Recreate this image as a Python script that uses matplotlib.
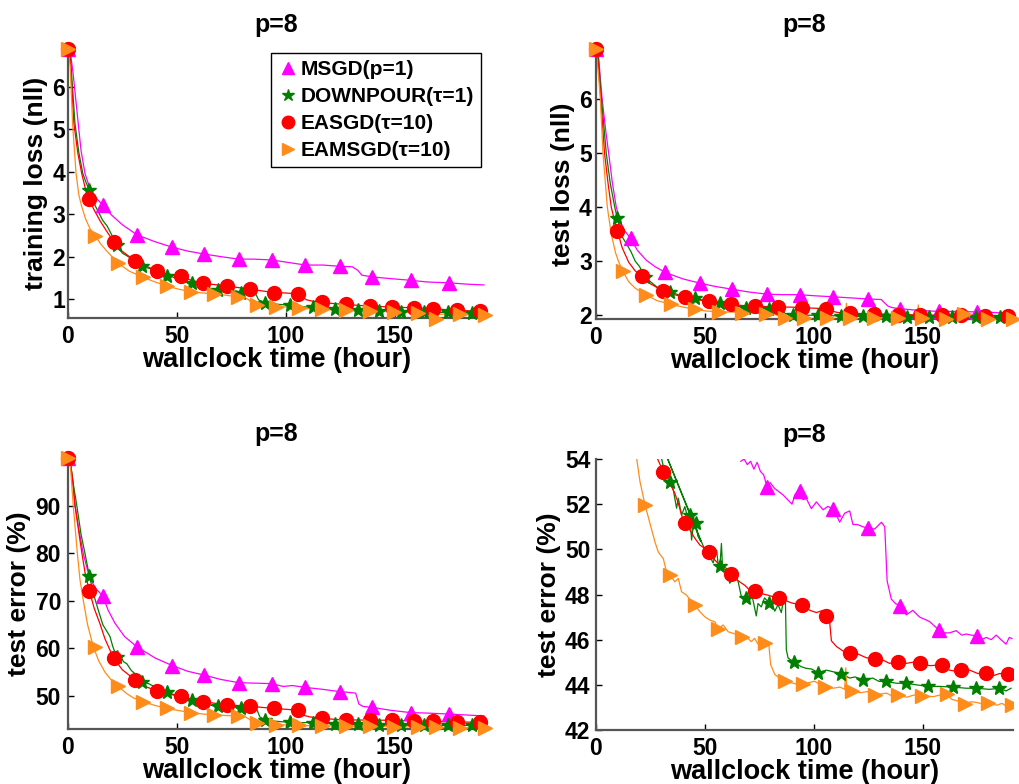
import matplotlib
matplotlib.use('Agg')
import matplotlib.pyplot as plt
from matplotlib.lines import Line2D

plt.rcParams['font.family'] = ['Liberation Sans', 'DejaVu Sans']
plt.rcParams['font.weight'] = 'bold'
plt.rcParams['mathtext.default'] = 'bf'

methods = ['MSGD(p=1)', 'DOWNPOUR(τ=1)', 'EASGD(τ=10)', 'EAMSGD(τ=10)']
colors = ['#ff00ff', '#007f00', '#ff0000', '#ff8c1a']
mstyles = ['^', '*', 'o', '>']
msizes = [10, 10, 10, 10]

# marker times shared by the three full-range panels
msgd_mk_t = [0, 15.9, 31.8, 47.9, 62.5, 78.3, 93.6, 109.0, 124.9, 139.7, 157.3, 174.9]
dp_mk_t = [0, 9.8, 22.3, 33.9, 45.5, 56.8, 68.9, 79.6, 90.5, 101.8, 112.5, 122.5,
           133.2, 142.8, 152.8, 163.3, 174.7, 185.6]
ea_mk_t = [0, 9.8, 21.0, 30.8, 40.8, 51.8, 61.8, 72.8, 83.8, 94.7, 105.8, 116.5,
           127.8, 138.5, 148.8, 158.7, 167.6, 178.6, 189.4]
eam_mk_t = [0, 12.4, 23.1, 34.5, 45.3, 56.3, 67.1, 78.1, 86.8, 95.4, 106.1, 116.7,
            127.8, 138.9, 149.7, 160.7, 169.1, 179.8, 191.3]

# ---- training loss ----
tr_msgd_t = [0, 1, 2.4, 4.7, 6, 7.8, 9.5, 11.6, 13.5, 15.9, 20, 25, 31.8, 40, 47.9, 55, 62.5,
             70, 78.3, 85, 93.6, 100, 109.0, 117, 124.9, 130.5, 133, 135, 139.7, 148, 157.3,
             165, 174.9, 183, 191]
tr_msgd_v = [6.9, 6.85, 6.3, 5.14, 4.5, 3.96, 3.7, 3.49, 3.35, 3.22, 2.98, 2.75, 2.51, 2.35,
             2.22, 2.13, 2.06, 2.0, 1.94, 1.94, 1.92, 1.87, 1.80, 1.80, 1.77, 1.76, 1.68, 1.56,
             1.52, 1.48, 1.44, 1.40, 1.38, 1.35, 1.33]
tr_msgd_mk = [6.9, 3.22, 2.51, 2.22, 2.06, 1.94, 1.92, 1.80, 1.77, 1.52, 1.44, 1.38]

tr_dp_t = [0, 1, 3.2, 5, 6.8, 8.3, 9.8, 12, 14, 16, 18, 19, 20, 22.3, 25, 27, 30, 33.9, 36,
           38, 40, 42, 45.5, 48, 50, 53, 56.8, 60, 63, 66, 68.9, 72, 75, 77, 79.6, 82, 84,
           86, 87.5, 90.5, 95, 101.8, 107, 112.5, 118, 122.5, 128, 133.2, 138, 142.8, 148,
           152.8, 158, 163.3, 169, 174.7, 180, 185.6, 191]
tr_dp_v = [6.9, 6.8, 5.14, 4.45, 3.96, 3.75, 3.57, 3.25, 3.05, 2.85, 2.72, 2.62, 2.52, 2.27,
           2.08, 2.02, 1.92, 1.78, 1.74, 1.71, 1.66, 1.61, 1.55, 1.52, 1.48, 1.41, 1.38, 1.32,
           1.30, 1.24, 1.20, 1.22, 1.16, 1.19, 1.15, 1.18, 1.12, 1.14, 0.98, 0.91, 0.88, 0.85,
           0.82, 0.80, 0.77, 0.76, 0.74, 0.73, 0.72, 0.71, 0.70, 0.70, 0.69, 0.69, 0.68, 0.68,
           0.67, 0.67, 0.66]
tr_dp_mk = [6.9, 3.57, 2.27, 1.78, 1.55, 1.38, 1.20, 1.15, 0.91, 0.85, 0.80, 0.76, 0.73,
            0.71, 0.70, 0.69, 0.68, 0.67]

tr_ea_t = [0, 1, 2.7, 4.5, 6.3, 8, 9.8, 12, 15, 18, 21.0, 25, 30.8, 35, 40.8, 45, 51.8, 56,
           61.8, 67, 72.8, 78, 83.8, 89, 94.7, 100, 105.8, 107.5, 109.5, 112, 116.5, 122,
           127.8, 133, 138.5, 144, 148.8, 154, 158.7, 163, 167.6, 173, 178.6, 184, 189.4, 191]
tr_ea_v = [6.9, 6.7, 5.14, 4.45, 3.96, 3.6, 3.35, 3.1, 2.82, 2.58, 2.35, 2.12, 1.90, 1.79,
           1.67, 1.60, 1.53, 1.45, 1.37, 1.34, 1.31, 1.27, 1.23, 1.19, 1.15, 1.14, 1.12, 1.05,
           0.98, 0.95, 0.92, 0.89, 0.87, 0.85, 0.83, 0.82, 0.81, 0.80, 0.79, 0.78, 0.77, 0.75,
           0.73, 0.72, 0.71, 0.71]
tr_ea_mk = [6.9, 3.35, 2.35, 1.90, 1.67, 1.53, 1.37, 1.31, 1.23, 1.15, 1.12, 0.92, 0.87,
            0.83, 0.81, 0.79, 0.77, 0.73, 0.71]

tr_eam_t = [0, 1, 2.1, 3.7, 5, 6.3, 8, 10, 12.4, 15, 18, 23.1, 28, 34.5, 40, 45.3, 50, 56.3,
            62, 67.1, 72, 78.1, 81, 83, 84.5, 86.8, 90, 95.4, 100, 106.1, 111, 116.7, 122,
            127.8, 133, 138.9, 144, 149.7, 155, 160.7, 165, 168, 169.1, 170.2, 174, 179.8,
            185, 191.3]
tr_eam_v = [6.9, 6.5, 5.14, 3.96, 3.45, 3.18, 2.9, 2.67, 2.49, 2.3, 2.12, 1.84, 1.66, 1.51,
            1.40, 1.31, 1.24, 1.17, 1.14, 1.12, 1.09, 1.05, 1.04, 0.98, 0.90, 0.85, 0.84,
            0.82, 0.81, 0.79, 0.77, 0.76, 0.74, 0.73, 0.72, 0.72, 0.71, 0.70, 0.68, 0.67,
            0.65, 0.64, 0.52, 0.64, 0.64, 0.65, 0.62, 0.61]
tr_eam_mk = [6.9, 2.49, 1.84, 1.51, 1.31, 1.17, 1.12, 1.05, 0.85, 0.82, 0.79, 0.76, 0.73,
             0.72, 0.70, 0.67, 0.52, 0.65, 0.61]

# ---- test loss ----
te_msgd_t = [0, 1, 2.8, 4.5, 5.8, 7.5, 9.3, 11, 13, 15.9, 19, 23, 27, 31.8, 40, 47.9, 55,
             62.5, 70, 78.3, 85, 93.6, 100, 109.0, 117, 124.9, 131, 134, 136, 139.7, 148,
             157.3, 165, 174.9, 183, 191]
te_msgd_v = [6.92, 6.85, 6.0, 5.4, 5.0, 4.45, 4.0, 3.75, 3.57, 3.42, 3.2, 3.02, 2.9, 2.79,
             2.67, 2.59, 2.53, 2.48, 2.43, 2.39, 2.38, 2.38, 2.36, 2.34, 2.32, 2.30, 2.29,
             2.17, 2.14, 2.12, 2.09, 2.07, 2.07, 2.06, 2.05, 2.03]
te_msgd_mk = [6.92, 3.42, 2.79, 2.59, 2.48, 2.39, 2.38, 2.34, 2.30, 2.12, 2.07, 2.06]

te_dp_t = [0, 1, 2.5, 4.7, 6.5, 8.6, 9.8, 12, 14, 16, 18, 20, 22.3, 25, 28, 30, 33.9, 37,
           40, 45.5, 50, 56.8, 62, 68.9, 74, 79.6, 83, 85, 87, 90.5, 95, 101.8, 107, 112.5,
           118, 122.5, 128, 133.2, 138, 142.8, 148, 152.8, 158, 163.3, 169, 174.7, 180,
           185.6, 191]
te_dp_v = [6.92, 6.8, 6.0, 5.0, 4.45, 4.0, 3.79, 3.45, 3.32, 3.18, 3.0, 2.9, 2.71, 2.62,
           2.52, 2.48, 2.43, 2.39, 2.35, 2.31, 2.27, 2.23, 2.19, 2.14, 2.13, 2.12, 2.11,
           2.10, 2.03, 2.01, 2.0, 2.0, 1.99, 1.99, 1.98, 1.98, 1.98, 1.98, 1.97, 1.97, 1.97,
           1.97, 1.97, 1.97, 1.96, 1.96, 1.96, 1.96, 1.95]
te_dp_mk = [6.92, 3.79, 2.71, 2.43, 2.31, 2.23, 2.14, 2.12, 2.01, 2.0, 1.99, 1.98, 1.98,
            1.97, 1.97, 1.97, 1.96, 1.96]

te_ea_t = [0, 1, 2.2, 3.9, 5.5, 7.0, 8.5, 9.8, 12, 15, 18, 21.0, 25, 30.8, 35, 40.8, 45,
           51.8, 56, 61.8, 67, 72.8, 78, 83.8, 89, 94.7, 100, 105.8, 108, 111, 116.5, 122,
           127.8, 133, 138.5, 144, 148.8, 154, 158.7, 163, 167.6, 173, 178.6, 184, 189.4, 191]
te_ea_v = [6.92, 6.7, 6.0, 5.0, 4.45, 4.0, 3.75, 3.56, 3.25, 2.98, 2.82, 2.72, 2.58, 2.45,
           2.39, 2.33, 2.29, 2.26, 2.23, 2.20, 2.18, 2.17, 2.16, 2.15, 2.15, 2.14, 2.13, 2.12,
           2.08, 2.05, 2.04, 2.03, 2.02, 2.02, 2.01, 2.01, 2.0, 2.0, 2.0, 2.0, 2.0, 1.99,
           1.99, 1.99, 1.99, 1.99]
te_ea_mk = [6.92, 3.56, 2.72, 2.45, 2.33, 2.26, 2.20, 2.17, 2.15, 2.14, 2.12, 2.04, 2.02,
            2.01, 2.0, 2.0, 2.0, 1.99, 1.99]

te_eam_t = [0, 1, 2, 3.2, 4.2, 5.2, 7, 9, 10.5, 12.4, 15, 18, 23.1, 28, 34.5, 40, 45.3, 50,
            56.3, 62, 67.1, 72, 78.1, 82, 84.5, 86.8, 90, 95.4, 100, 106.1, 111, 114.6, 115,
            115.4, 116.7, 122, 127.8, 133, 138.9, 144, 147.6, 148, 148.4, 149.7, 155, 160.7,
            165, 169.1, 172, 175, 179.8, 185, 191.3]
te_eam_v = [6.92, 6.5, 6.0, 5.0, 4.5, 4.0, 3.5, 3.15, 2.98, 2.81, 2.62, 2.5, 2.37, 2.27,
            2.20, 2.15, 2.11, 2.08, 2.06, 2.06, 2.05, 2.04, 2.03, 2.02, 1.97, 1.95, 1.94,
            1.94, 1.94, 1.94, 1.94, 1.94, 2.22, 1.94, 1.94, 1.94, 1.94, 1.94, 1.94, 1.94,
            1.94, 2.19, 1.94, 1.94, 1.94, 1.93, 1.93, 2.03, 1.93, 1.93, 1.93, 1.93, 1.93]
te_eam_mk = [6.92, 2.81, 2.37, 2.20, 2.11, 2.06, 2.05, 2.03, 1.95, 1.94, 1.94, 1.94, 1.94,
             1.94, 1.94, 1.93, 2.03, 1.93, 1.93]

# ---- test error ----
err_msgd_t = [0, 1, 2.3, 3.2, 5, 7, 9, 11, 13, 15.9, 18.5, 21.6, 26, 31.8, 40, 47.9, 55,
              62.5, 70, 78.3, 86, 93.6, 98.8, 103, 109.0, 117, 124.9, 128, 132.1, 133.6,
              135.5, 139.7, 148, 157.3, 165, 174.9, 183, 191]
err_msgd_v = [100, 99.3, 94.9, 90.2, 85, 80, 76.5, 74, 72.5, 71.1, 68, 65.3, 62.5, 60.3, 58,
              56.4, 55.2, 54.4, 53.5, 52.8, 52.7, 52.6, 52.0, 52.2, 51.8, 51.4, 50.9, 50.8,
              50.6, 48.3, 47.8, 47.6, 47.0, 46.5, 46.4, 46.2, 46.0, 45.8]
err_msgd_mk = [100, 71.1, 60.3, 56.4, 54.4, 52.8, 52.6, 51.8, 50.9, 47.6, 46.5, 46.2]

err_dp_t = [0, 1, 2.3, 4, 6, 7.8, 9.8, 12, 13.9, 16, 18, 19.3, 20.5, 22.3, 24, 25.5, 27, 29,
            31, 33.9, 37, 40, 43, 45.5, 48, 51, 54, 56.8, 60, 63, 66, 68.9, 72, 75, 77,
            79.6, 82, 84, 86.5, 88.1, 90.5, 95, 101.8, 107, 112.5, 118, 122.5, 128, 133.2,
            138, 142.8, 148, 152.8, 158, 163.3, 169, 174.7, 180, 185.6, 191]
err_dp_v = [100, 99.5, 95, 90.2, 84, 80, 75.3, 71, 68.1, 65, 63.5, 62.5, 60.5, 58.3, 58.6,
            57.2, 56.8, 55.4, 54.6, 53.0, 52.6, 51.9, 51.5, 50.9, 50.4, 50.0, 49.6, 49.2,
            48.8, 48.5, 48.0, 47.8, 48.0, 47.6, 47.9, 47.4, 47.7, 47.3, 47.4, 45.6, 44.95,
            44.7, 44.45, 44.4, 44.4, 44.2, 44.1, 44.1, 44.1, 44.0, 43.9, 43.9, 43.85, 43.85,
            43.85, 43.8, 43.85, 43.8, 43.8, 43.8]
err_dp_mk = [100, 75.3, 58.3, 53.0, 50.9, 49.2, 47.8, 47.4, 44.95, 44.45, 44.4, 44.1, 44.1,
             43.9, 43.85, 43.85, 43.85, 43.8]

err_ea_t = [0, 1, 2, 3.2, 4.8, 6.4, 8, 9.8, 12, 14.6, 17, 21.0, 25, 30.8, 35, 40.8, 46,
            51.8, 56, 61.8, 67, 72.8, 78, 83.8, 89, 94.7, 100, 105.8, 107, 108.5, 111, 116.5,
            122, 127.8, 133, 138.5, 144, 148.8, 154, 158.7, 163, 167.6, 173, 178.6, 184,
            189.4, 191]
err_ea_v = [100, 99.5, 96, 90.2, 85, 80, 75.5, 72.2, 68.5, 65.3, 62, 57.9, 55.5, 53.4, 52.1,
            51.05, 50.4, 49.9, 49.3, 48.8, 48.5, 48.1, 48.0, 47.85, 47.6, 47.4, 47.2, 47.0,
            46.6, 45.9, 45.6, 45.3, 45.1, 44.95, 44.95, 44.9, 44.9, 44.9, 44.8, 44.75, 44.7,
            44.65, 44.6, 44.55, 44.5, 44.5, 44.5]
err_ea_mk = [100, 72.2, 57.9, 53.4, 51.05, 49.9, 48.8, 48.1, 47.85, 47.4, 47.0, 45.3, 44.95,
             44.9, 44.9, 44.75, 44.65, 44.55, 44.5]

err_eam_t = [0, 1, 2.4, 4.3, 5.5, 7.0, 9, 11.6, 14, 17, 20, 23.1, 27, 30, 34.5, 40, 45.3,
             50, 56.3, 62, 67.1, 72, 78.1, 81, 83, 84.5, 86.8, 90, 95.4, 100, 106.1, 111,
             116.7, 122, 127.8, 133, 138.9, 144, 149.7, 155, 160.7, 165, 169.1, 174, 179.8,
             185, 191.3]
err_eam_v = [100, 99, 90.2, 80, 74.5, 70.2, 65, 60.4, 57.5, 55, 53.3, 52.0, 50.5, 49.6,
             48.8, 48.0, 47.4, 47.0, 46.5, 46.2, 46.0, 45.9, 45.8, 45.7, 45.2, 44.6, 44.3,
             44.2, 43.9, 43.9, 43.8, 43.75, 43.7, 43.7, 43.65, 43.65, 43.6, 43.6, 43.55,
             43.5, 43.5, 43.45, 43.4, 43.4, 43.35, 43.3, 43.3]
err_eam_mk = [100, 60.4, 52.0, 48.8, 47.4, 46.5, 46.0, 45.8, 44.3, 43.9, 43.8, 43.7, 43.65,
              43.6, 43.55, 43.5, 43.4, 43.35, 43.3]

# ---- test error, close-up range ----
err2_msgd_t = [66.5, 68, 69.5, 71, 72.5, 74, 75.5, 77, 78.6, 80, 82, 84, 86, 88, 90, 91.5,
               93.6, 95, 96.6, 98.9, 101.2, 104.3, 106.5, 108.9, 110.5, 111.9, 114.2, 116.5,
               118.0, 120, 122.6, 125.0, 128, 131.1, 132.6, 133.7, 135.6, 137.5, 139.6,
               142.5, 145.5, 148.6, 151, 153.2, 155.5, 157.5, 160, 162.3, 165.4, 168, 170,
               172.5, 174.8, 177, 179.2, 181.5, 183.8, 186, 188.3, 189.8, 191]
err2_msgd_v = [53.9, 54.0, 53.75, 53.9, 53.55, 53.85, 53.45, 53.3, 52.75, 52.95, 52.7, 52.55,
               52.4, 52.2, 52.0, 52.45, 52.6, 52.2, 52.25, 51.8, 52.1, 51.75, 51.9, 51.78,
               51.5, 51.2, 51.6, 51.7, 51.1, 51.1, 51.0, 50.93, 50.9, 51.2, 51.0, 48.6, 47.8,
               47.6, 47.5, 47.1, 47.3, 47.0, 46.9, 46.8, 46.6, 46.43, 46.3, 46.3, 46.4, 46.2,
               46.25, 46.2, 46.16, 46.0, 46.1, 46.0, 46.2, 46.0, 45.8, 46.1, 46.05]
err2_msgd_mk_t = [78.6, 93.6, 108.9, 125.0, 139.6, 157.5, 174.8]
err2_msgd_mk = [52.75, 52.6, 51.78, 50.93, 47.5, 46.43, 46.16]

# this run's log steps back in time once around 48 h
err2_dp_t = [29.0, 30.1, 31.6, 33.9, 35.5, 37, 37.8, 39.3, 40.8, 42, 43.1, 43.9, 44.8, 45.7,
             46.9, 48.2, 22.0, 48.6, 50, 52.3, 53.8, 55.4, 56.1, 56.9, 57.6, 58.1, 59.9,
             61.4, 63.7, 65.2, 66.7, 68.7, 70.6, 72, 73.6, 74.4, 75.9, 77.4, 79.4, 80.5,
             82.1, 83.6, 85.1, 86.2, 87, 87.4, 88.2, 91, 94.3, 96.6, 99, 102, 105.8, 108.9,
             112.7, 116.5, 119, 122.6, 127.1, 130, 133.3, 137.9, 142.5, 147.1, 152.4, 157.8,
             163.9, 170, 174.6, 180.7, 185.3, 188.3, 190.6]
err2_dp_v = [55.5, 54.03, 53.37, 52.97, 52.63, 51.82, 52.26, 51.52, 51.89, 51.45, 51.52,
             50.41, 51.15, 51.18, 50.56, 50.34, 56.6, 50.3, 49.97, 49.68, 49.4, 49.97, 49.31,
             49.24, 50.26, 49.24, 49.16, 48.5, 48.8, 48.6, 47.93, 47.83, 48.2, 47.8, 47.05,
             47.6, 47.45, 47.85, 47.64, 47.7, 47.26, 47.55, 47.2, 47.8, 47.7, 45.56, 45.19,
             45.0, 44.8, 44.73, 44.7, 44.54, 44.65, 44.58, 44.48, 44.3, 44.35, 44.22, 44.3,
             44.15, 44.15, 44.07, 44.07, 44.0, 43.93, 43.93, 43.9, 43.85, 43.85, 43.8, 43.85,
             43.73, 43.85]
err2_dp_mk_t = [33.9, 43.1, 45.7, 56.9, 68.7, 79.4, 91.0, 102.0, 112.7, 122.6, 133.3, 142.5,
                152.4, 163.9, 174.6, 185.3]
err2_dp_mk = [52.97, 51.52, 51.18, 49.24, 47.83, 47.64, 45.0, 44.54, 44.48, 44.22, 44.15,
              44.07, 43.93, 43.9, 43.85, 43.85]

err2_ea_t = [26.5, 28.3, 30.9, 32.4, 34.7, 36.2, 37.8, 39.3, 40.8, 43.1, 45.4, 47.7, 50,
             51.8, 53.8, 56.1, 58.4, 59.9, 61.8, 63.7, 66, 68.3, 70.6, 72.9, 75.9, 79, 81.3,
             84.0, 86.6, 89.7, 92.7, 94.8, 98.2, 101.2, 104.3, 105.8, 107.3, 108.1, 110.4,
             113.4, 116.8, 119.5, 124.1, 128.0, 131.7, 134.8, 138.7, 142.4, 145.5, 148.9,
             153.2, 158.9, 162.3, 165.4, 167.7, 171.6, 175.4, 178.9, 182.3, 185.3, 189.4, 191]
err2_ea_v = [55.0, 54.0, 53.44, 52.93, 52.78, 52.48, 52.04, 51.52, 51.15, 50.86, 50.49,
             50.19, 50.04, 49.9, 49.6, 49.38, 49.16, 49.08, 48.9, 48.71, 48.56, 48.41, 48.19,
             48.17, 48.04, 47.97, 47.9, 47.83, 47.75, 47.63, 47.57, 47.53, 47.3, 47.2, 47.3,
             47.05, 46.8, 45.95, 45.7, 45.5, 45.4, 45.4, 45.2, 45.13, 45.1, 44.95, 45.03,
             44.95, 45.0, 44.95, 44.85, 44.88, 44.65, 44.6, 44.66, 44.65, 44.5, 44.54, 44.4,
             44.5, 44.48, 44.45]
err2_ea_mk_t = [30.9, 40.8, 51.8, 61.8, 72.9, 84.0, 94.8, 105.8, 116.8, 128.0, 138.7, 148.9,
                158.9, 167.7, 178.9, 189.4]
err2_ea_mk = [53.44, 51.15, 49.9, 48.9, 48.17, 47.83, 47.53, 47.05, 45.4, 45.13, 45.03,
              44.95, 44.88, 44.66, 44.54, 44.48]

err2_eam_t = [17.0, 18.7, 20.2, 22.5, 24.8, 27.1, 28.6, 30.9, 32.4, 34.0, 36.2, 37.8, 39.3,
              41.6, 43.9, 45.4, 47.7, 50, 52.3, 54.6, 56.1, 58.4, 60.7, 63.0, 65.2, 67.1,
              69, 71.3, 72.8, 74.4, 75.9, 77.7, 79.3, 80.2, 82.1, 85.1, 87.0, 89.7, 92.0,
              95.1, 97.4, 100.4, 103, 105, 108.9, 112, 114.2, 114.7, 115.2, 117.4, 121.3,
              124.5, 128.2, 131, 133.5, 136, 138.9, 142.7, 146, 149.6, 155, 158, 161.0,
              163.5, 165.7, 169.4, 172, 174.9, 177.5, 180.2, 184.1, 186.4, 188.5, 191.0]
err2_eam_v = [56.0, 54.0, 53.0, 51.98, 51.14, 50.32, 49.88, 49.59, 49.0, 48.88, 48.56,
              48.71, 48.12, 47.97, 47.68, 47.53, 47.24, 47.01, 46.87, 46.79, 46.47, 46.65,
              46.35, 46.28, 46.2, 46.1, 46.13, 45.91, 46.06, 45.8, 45.9, 45.85, 45.85, 44.9,
              44.46, 44.24, 44.19, 44.09, 44.04, 44.04, 44.09, 44.16, 44.0, 43.92, 43.85,
              43.9, 43.8, 44.75, 43.8, 43.74, 43.65, 43.7, 43.55, 43.6, 43.63, 43.5, 43.55,
              43.45, 43.55, 43.5, 43.48, 43.55, 43.58, 43.35, 43.3, 43.16, 43.25, 43.22,
              43.15, 43.18, 43.1, 43.18, 43.05, 43.1]
err2_eam_mk_t = [22.5, 34.0, 45.4, 56.1, 67.1, 77.7, 87.0, 95.1, 105.0, 117.4, 128.2, 138.9,
                 149.6, 161.0, 169.4, 180.2, 191.0]
err2_eam_mk = [51.98, 48.88, 47.53, 46.47, 46.1, 45.85, 44.19, 44.04, 43.92, 43.74, 43.55,
               43.55, 43.5, 43.58, 43.16, 43.18, 43.1]


def rect(l, r, t, b):
    # pixel box -> figure fraction
    return [l / 1020, 1 - b / 784, (r - l) / 1020, (b - t) / 784]


def draw(ax, series, clip):
    for k, (lt, lv, mt, mv) in enumerate(series):
        ax.plot(lt, lv, '-', color=colors[k], lw=0.9, clip_on=clip)
        ax.plot(mt, mv, linestyle='None', marker=mstyles[k], ms=msizes[k],
                color=colors[k], mec=colors[k], clip_on=clip, zorder=3)


def style(ax, ylim, yticks, ylabel, ypad):
    ax.set_xlim(0, 191.5)
    ax.set_ylim(*ylim)
    ax.set_xticks([0, 50, 100, 150])
    ax.set_yticks(yticks)
    ax.spines['top'].set_visible(False)
    ax.spines['right'].set_visible(False)
    for s in ['left', 'bottom']:
        ax.spines[s].set_color('#555555')
        ax.spines[s].set_linewidth(1.6)
    ax.tick_params(direction='in', length=4, width=1, labelsize=16.5, color='black')
    ax.tick_params(axis='x', pad=5)
    ax.tick_params(axis='y', pad=ypad)
    ax.set_xlabel('wallclock time (hour)', fontsize=19.5, fontweight='bold', labelpad=-1)
    ax.set_ylabel(ylabel, fontsize=19, fontweight='bold', labelpad=3)
    ax.set_title('p=8', fontsize=18, fontweight='bold', pad=12)


fig = plt.figure(figsize=(10.2, 7.84), dpi=100)

ax1 = fig.add_axes(rect(68, 485, 49, 318))
draw(ax1, [(tr_msgd_t, tr_msgd_v, msgd_mk_t, tr_msgd_mk),
           (tr_dp_t, tr_dp_v, dp_mk_t, tr_dp_mk),
           (tr_ea_t, tr_ea_v, ea_mk_t, tr_ea_mk),
           (tr_eam_t, tr_eam_v, eam_mk_t, tr_eam_mk)], False)
style(ax1, (0.55, 6.9), [1, 2, 3, 4, 5, 6], 'training loss (nll)', 2)

ax2 = fig.add_axes(rect(596, 1013, 49, 319))
draw(ax2, [(te_msgd_t, te_msgd_v, msgd_mk_t, te_msgd_mk),
           (te_dp_t, te_dp_v, dp_mk_t, te_dp_mk),
           (te_ea_t, te_ea_v, ea_mk_t, te_ea_mk),
           (te_eam_t, te_eam_v, eam_mk_t, te_eam_mk)], False)
style(ax2, (1.93, 6.92), [2, 3, 4, 5, 6], 'test loss (nll)', 3)

ax3 = fig.add_axes(rect(68, 485, 458, 729))
draw(ax3, [(err_msgd_t, err_msgd_v, msgd_mk_t, err_msgd_mk),
           (err_dp_t, err_dp_v, dp_mk_t, err_dp_mk),
           (err_ea_t, err_ea_v, ea_mk_t, err_ea_mk),
           (err_eam_t, err_eam_v, eam_mk_t, err_eam_mk)], False)
style(ax3, (43.05, 100.1), [50, 60, 70, 80, 90], 'test error (%)', 5)

ax4 = fig.add_axes(rect(596, 1013, 459, 730))
draw(ax4, [(err2_msgd_t, err2_msgd_v, err2_msgd_mk_t, err2_msgd_mk),
           (err2_dp_t, err2_dp_v, err2_dp_mk_t, err2_dp_mk),
           (err2_ea_t, err2_ea_v, err2_ea_mk_t, err2_ea_mk),
           (err2_eam_t, err2_eam_v, err2_eam_mk_t, err2_eam_mk)], True)
style(ax4, (42, 54), [42, 44, 46, 48, 50, 52, 54], 'test error (%)', 4)

handles = [Line2D([], [], linestyle='None', marker=mstyles[k], ms=msizes[k] - 1,
                  color=colors[k]) for k in range(4)]
leg = ax1.legend(handles, methods, loc='upper left', bbox_to_anchor=(0.487, 0.985),
                 frameon=True, fancybox=False, framealpha=1, edgecolor='black',
                 borderpad=0.35, handletextpad=0.15, handlelength=0.9, labelspacing=0.38,
                 borderaxespad=0, prop={'size': 15, 'weight': 'bold'})
leg.get_frame().set_linewidth(1.0)

fig.savefig('out.png', dpi=100)
